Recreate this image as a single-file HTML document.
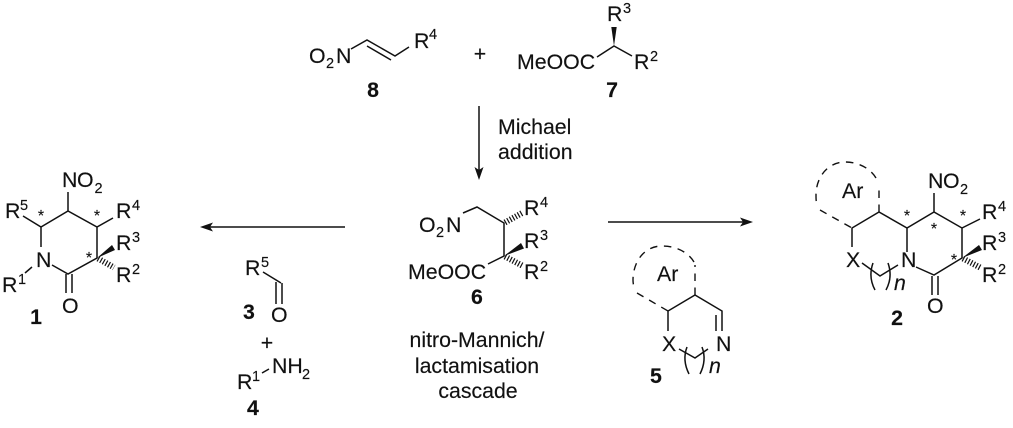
<!DOCTYPE html>
<html><head><meta charset="utf-8"><style>
html,body{margin:0;padding:0;background:#fff}
svg{display:block}
text{font-family:"Liberation Sans",Arial,sans-serif;font-size:21.3px;fill:#111;stroke:#111;stroke-width:.15}
.s{font-size:14.5px}
.b{font-weight:bold}
.a{font-size:16px;text-anchor:middle}
.i{font-style:italic}
.l{fill:none;stroke:#111;stroke-width:1.5;stroke-linecap:butt;stroke-linejoin:miter}
.d{fill:none;stroke:#111;stroke-width:1.4;stroke-dasharray:7.5 6.5}
.h{fill:none;stroke:#111;stroke-width:6;stroke-dasharray:1.2 1.8}
.f{fill:#111;stroke:none}
</style></head><body>
<svg width="1013" height="428" viewBox="0 0 1013 428" xmlns="http://www.w3.org/2000/svg">

<!-- 8 -->
<text x="309" y="63">O</text><text class="s" x="326" y="68">2</text><text x="336" y="63">N</text>
<path class="l" d="M351 49L367 40L395 56L409 47M367 46L391 60"/>
<text x="414" y="48">R</text><text class="s" x="429" y="39">4</text>
<text class="b" x="373" y="97" text-anchor="middle">8</text>
<text x="480" y="61" text-anchor="middle">+</text>

<!-- 7 -->
<text x="517" y="69">MeOOC</text>
<path class="l" d="M597 57L614 46L632 56"/>
<polygon class="f" points="614,46 611.3,27 616.7,27"/>
<text x="607" y="21">R</text><text class="s" x="623" y="13">3</text>
<text x="634" y="69">R</text><text class="s" x="650" y="61">2</text>
<text class="b" x="612" y="97" text-anchor="middle">7</text>

<!-- vertical arrow -->
<path class="l" d="M479 106V172"/>
<polygon class="f" points="479,180 474.5,167 479,170 483.5,167"/>
<text x="498" y="134">Michael</text>
<text x="498" y="159">addition</text>

<!-- 1 -->
<text x="62" y="187">N</text><text x="77" y="187">O</text><text class="s" x="94.5" y="193">2</text>
<path class="l" d="M68 192V211M23 216L41 227L68 211L97 227L113 218M41 227V247M97 227V258L68 274L52 265M25 273L32 267M66 274V293M72 274V293"/>
<text x="36" y="267">N</text>
<text x="5" y="218">R</text><text class="s" x="20" y="210">5</text>
<text x="116" y="218">R</text><text class="s" x="132" y="210">4</text>
<text x="116" y="250">R</text><text class="s" x="132" y="242">3</text>
<text x="116" y="282">R</text><text class="s" x="132" y="274">2</text>
<text x="2" y="292">R</text><text class="s" x="18" y="284">1</text>
<text x="62" y="313">O</text>
<polygon class="f" points="97,258 112,245 115,250"/>
<path class="h" d="M98 258.5L114 267.5"/>
<text class="a" x="41" y="221">*</text><text class="a" x="97" y="221">*</text><text class="a" x="89" y="263">*</text>
<text class="b" x="36" y="324" text-anchor="middle">1</text>

<!-- left arrow -->
<path class="l" d="M345 227H208"/>
<polygon class="f" points="200,227 213,222.5 210,227 213,231.5"/>

<!-- 3 -->
<text x="245" y="275">R</text><text class="s" x="261" y="267">5</text>
<path class="l" d="M263 272L281 283M276 282V304M282 283V304"/>
<text x="271" y="322">O</text>
<text class="b" x="243" y="319">3</text>
<text x="267" y="350" text-anchor="middle">+</text>
<!-- 4 -->
<text x="272" y="373">NH</text><text class="s" x="302" y="379">2</text>
<text x="237" y="389">R</text><text class="s" x="252" y="381">1</text>
<path class="l" d="M262 373L269 369"/>
<text class="b" x="247" y="415">4</text>

<!-- 6 -->
<text x="419" y="232">O</text><text class="s" x="436" y="237">2</text><text x="446" y="232">N</text>
<path class="l" d="M463 213L477 207L504 223V256L488 264"/>
<text x="408" y="279">MeOOC</text>
<text x="524" y="215">R</text><text class="s" x="540" y="207">4</text>
<text x="524" y="248">R</text><text class="s" x="540" y="240">3</text>
<text x="524" y="279">R</text><text class="s" x="540" y="271">2</text>
<path class="h" d="M505 222.5L523 212.5"/>
<polygon class="f" points="504,256 521,243 524,248.5"/>
<path class="h" d="M505 256.5L523 266"/>
<text class="b" x="471" y="304">6</text>

<text x="477" y="347" text-anchor="middle">nitro-Mannich/</text>
<text x="477" y="373" text-anchor="middle">lactamisation</text>
<text x="478" y="398" text-anchor="middle">cascade</text>

<!-- right arrow -->
<path class="l" d="M608 222H745"/>
<polygon class="f" points="753,222 740,217.5 743,222 740,226.5"/>

<!-- 5 -->
<path class="d" d="M695 295V265"/>
<path class="d" d="M694 262C688 252 676 246 662 246C644 246 633 262 633 280C633 283 633.500 285 634 287"/>
<path class="d" d="M637 293L668 311"/>
<path class="l" d="M668 331V311L695 295L722 311V331M716 315V331M679 349L695 358L708 349"/>
<path class="l" d="M687 347Q682 360 689 374M702 347Q707 360 700 374"/>
<text x="662" y="351">X</text><text x="716" y="351">N</text>
<text class="i" x="709" y="373">n</text>
<text x="657" y="281">Ar</text>
<text class="b" x="650" y="383">5</text>

<!-- 2 -->
<path class="d" d="M879 212V184"/>
<path class="d" d="M876 178C870 168 858 162 845 162C828 162 816 177 816 195C816 198 816 200 816.500 203"/>
<path class="d" d="M820 210L852 228"/>
<path class="l" d="M852 247V228L879 212L907 228L934 212L962 228V258L934 275L916 267M907 228V252M934 212V193M962 228L980 219M862 263L880 276L898 265M932 276V295M938 276V295"/>
<path class="l" d="M873 263Q868 277 875 290M888 263Q893 277 886 290"/>
<text x="846" y="267">X</text><text x="901" y="267">N</text>
<text class="i" x="894" y="290">n</text>
<text x="842" y="198">Ar</text>
<text x="928" y="188">N</text><text x="943" y="188">O</text><text class="s" x="960" y="194">2</text>
<text x="927" y="313">O</text>
<text x="982" y="219">R</text><text class="s" x="998" y="211">4</text>
<text x="982" y="250">R</text><text class="s" x="998" y="242">3</text>
<text x="982" y="282">R</text><text class="s" x="998" y="274">2</text>
<polygon class="f" points="962,258 979,245 982,250"/>
<path class="h" d="M963 258.5L981 268"/>
<text class="a" x="907" y="221">*</text><text class="a" x="963" y="221">*</text><text class="a" x="934" y="234">*</text><text class="a" x="954" y="265">*</text>
<text class="b" x="897" y="325" text-anchor="middle">2</text>
</svg>
</body></html>
